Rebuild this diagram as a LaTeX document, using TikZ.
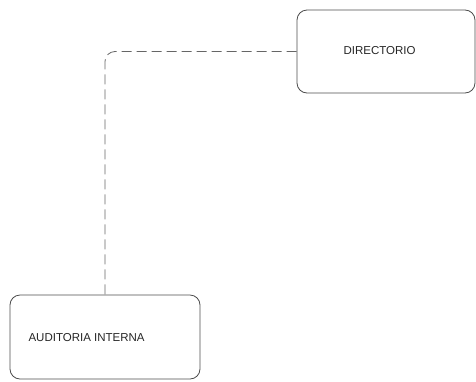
\documentclass[tikz,border=0pt]{standalone}
\usepackage{fontspec}
\setmainfont{Liberation Sans}
\begin{document}
\begin{tikzpicture}[x=1pt,y=-1pt,
  orgbox/.style={draw=black!70, line width=0.8pt, rounded corners=10pt, inner sep=0pt},
  link/.style={draw=black!60, line width=0.8pt, dash pattern=on 10pt off 5pt, rounded corners=10pt},
  lbl/.style={font=\fontsize{11.5}{13}\selectfont, text=black!85}]
  \useasboundingbox (0,0) rectangle (476,381);
  % boxes
  \node[orgbox, minimum width=178pt, minimum height=83pt] (dir) at (386,51.5) {};
  \node[orgbox, minimum width=190pt, minimum height=84pt] (aud) at (105,337) {};
  % labels
  \node[lbl, anchor=west] (dirtext) at (340,51) {DIRECTORIO};
  \node[lbl, anchor=west] (audtext) at (25,338) {AUDITORIA INTERNA};
  % connector
  \draw[link] (dir.west) -| (aud.north);
\end{tikzpicture}
\end{document}
